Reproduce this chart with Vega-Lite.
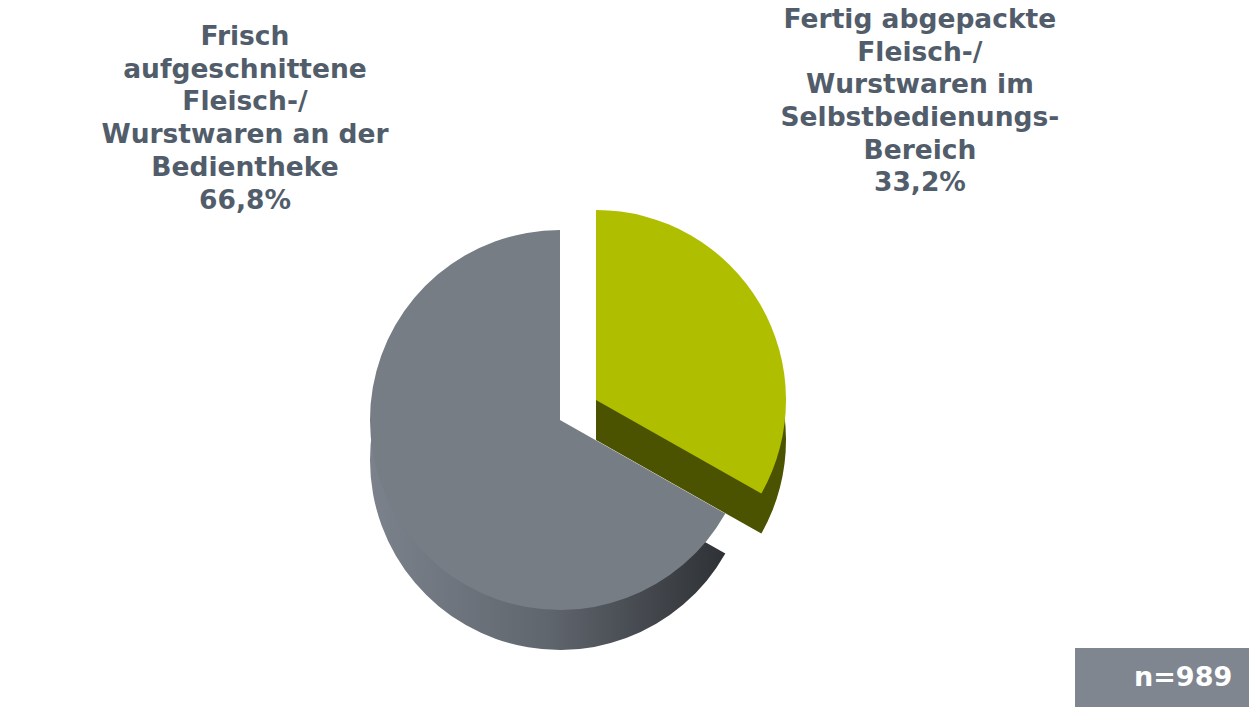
{
  "$schema": "https://vega.github.io/schema/vega-lite/v6.json",
  "width": 1249,
  "height": 707,
  "autosize": {"type": "fit", "contains": "padding"},
  "padding": 0,
  "background": "#ffffff",
  "config": {
    "view": {"stroke": null},
    "legend": {
      "orient": "bottom-right",
      "offset": 0,
      "padding": 16,
      "fillColor": "#7f8690",
      "labelFont": "DejaVu Sans",
      "labelFontWeight": "bold",
      "labelFontSize": 27,
      "labelColor": "#ffffff",
      "labelOffset": 16,
      "labelLimit": 400,
      "symbolSize": 100,
      "symbolOpacity": 0
    }
  },
  "data": {
    "values": [
      {"cat": "Fertig abgepackte Fleisch-/Wurstwaren im Selbstbedienungs-Bereich", "label": "Fertig abgepackte\nFleisch-/\nWurstwaren im\nSelbstbedienungs-\nBereich\n33,2%", "pct": 33.2, "exploded": true, "sample": "n=989"},
      {"cat": "Frisch aufgeschnittene Fleisch-/Wurstwaren an der Bedientheke", "label": "Frisch\naufgeschnittene\nFleisch-/\nWurstwaren an der\nBedientheke\n66,8%", "pct": 66.8, "exploded": false, "sample": "n=989"}
    ]
  },
  "encoding": {
    "theta": {"field": "pct", "type": "quantitative", "stack": true},
    "order": {"field": "pct", "type": "quantitative", "sort": "ascending"}
  },
  "layer": [
    {
      "mark": {
        "type": "arc", "radius": 190, "xOffset": -64.5, "yOffset": 106.5,
        "color": {"gradient": "linear", "x1": 0, "x2": 1, "y1": 0, "y2": 0,
          "stops": [{"offset": 0, "color": "#7b828b"}, {"offset": 0.5, "color": "#60666e"}, {"offset": 1, "color": "#2e3135"}]}
      },
      "encoding": {"opacity": {"condition": {"test": "datum.exploded", "value": 0}, "value": 1}}
    },
    {
      "mark": {"type": "arc", "radius": 190, "xOffset": -28.5, "yOffset": 86.5, "color": "#4b5300"},
      "encoding": {"opacity": {"condition": {"test": "datum.exploded", "value": 1}, "value": 0}}
    },
    {
      "mark": {"type": "arc", "radius": 190, "xOffset": -64.5, "yOffset": 66.5, "color": "#767d85"},
      "encoding": {"opacity": {"condition": {"test": "datum.exploded", "value": 0}, "value": 1}}
    },
    {
      "mark": {"type": "arc", "radius": 190, "xOffset": -28.5, "yOffset": 46.5, "color": "#afbf00"},
      "encoding": {"opacity": {"condition": {"test": "datum.exploded", "value": 1}, "value": 0}}
    },
    {
      "mark": {"type": "arc", "radius": 0, "xOffset": -64.5, "yOffset": 66.5},
      "encoding": {
        "color": {"field": "sample", "type": "nominal", "scale": {"range": ["#7f8690"]}, "legend": {"title": null}}
      }
    },
    {
      "mark": {
        "type": "text", "xOffset": -64.5, "yOffset": 61.5,
        "lineBreak": "\n", "lineHeight": 32.7,
        "font": "DejaVu Sans", "fontWeight": "bold", "fontSize": 26.5,
        "fill": "#525d6b", "align": "center", "baseline": "middle"
      },
      "encoding": {
        "theta": {"field": "pct", "type": "quantitative", "stack": true, "scale": {"range": [-0.8711, 8.8277]}},
        "radius": {"field": "pct", "type": "quantitative", "scale": {"type": "linear", "zero": false, "domain": [33.2, 66.8], "range": [534.4, 492.0]}},
        "text": {"field": "label", "type": "nominal"}
      }
    }
  ],
  "resolve": {"scale": {"theta": "independent", "radius": "independent"}}
}
